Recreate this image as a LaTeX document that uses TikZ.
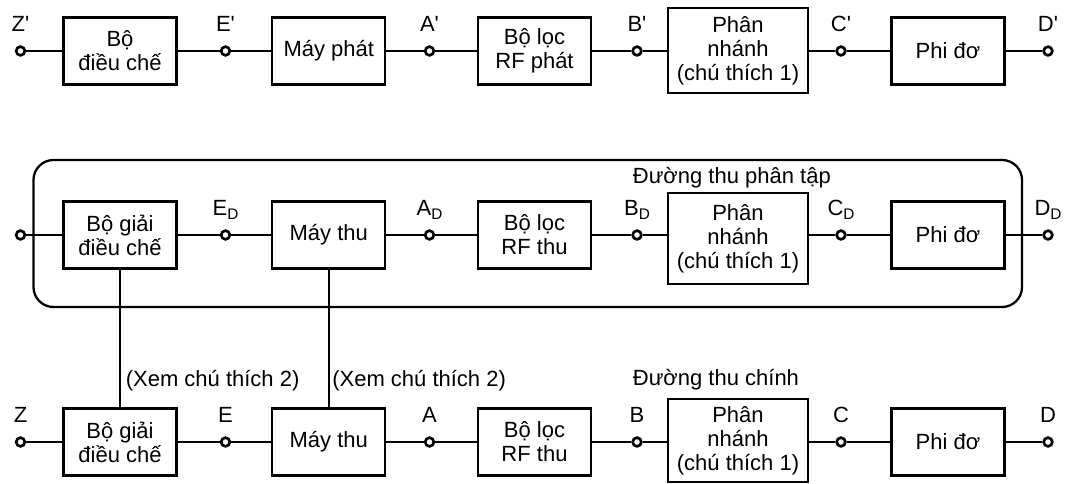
\documentclass[tikz,border=0pt]{standalone}
\usepackage{fontspec}
\setmainfont{Liberation Sans}
\newcommand\qp{\textquotesingle}
\newcommand\sbD{\raisebox{-3pt}{\fontsize{11.5}{12}\selectfont D}}
\begin{document}
\begin{tikzpicture}[x=0.75pt,y=-0.75pt,
 every node/.style={font=\fontsize{16.5}{18}\selectfont},
 blk/.style={draw, line width=1.7pt, minimum width=84.75pt, minimum height=50.25pt, align=center, inner sep=0pt},
 wide/.style={blk, minimum width=105pt},
 port/.style={draw, circle, line width=2pt, fill=white, inner sep=0pt, minimum size=6.5pt},
 lbl/.style={anchor=base, inner sep=0pt},
 note/.style={anchor=base west, inner sep=0pt},
 wire/.style={line width=1.7pt},
 frame/.style={draw, line width=1.7pt, rounded corners=15pt, minimum width=741.4pt, minimum height=110.25pt, inner sep=0pt},
]
\useasboundingbox (0,0) rectangle (1066,483);

% ---------- Row 1 ----------
\node[port] (p1a) at (20.5,51) {};
\node[blk]  (r1b1) at (120,51) {Bộ\\điều chế};
\node[port] (p1b) at (225.5,51) {};
\node[blk]  (r1b2) at (328.75,51) {Máy phát};
\node[port] (p1c) at (429.5,51) {};
\node[blk]  (r1b3) at (534.5,51) {Bộ lọc\\RF phát};
\node[port] (p1d) at (637,51) {};
\node[wide, minimum height=63.75pt] (r1b4) at (738,50.5) {Phân\\nhánh\\(chú thích 1)};
\node[port] (p1e) at (841,51) {};
\node[blk]  (r1b5) at (948,51) {Phi đơ};
\node[port] (p1f) at (1048,51) {};
\foreach \p/\b in {p1a/r1b1, p1b/r1b2, p1c/r1b3, p1d/r1b4, p1e/r1b5}
  \draw[wire] (\p) -- (\p -| \b.west);
\foreach \b/\p in {r1b1/p1b, r1b2/p1c, r1b3/p1d, r1b4/p1e, r1b5/p1f}
  \draw[wire] (\b.east |- \p) -- (\p);
\node[lbl] (l1a) at ([yshift=14.5pt]p1a.center) {Z\qp};
\node[lbl] (l1b) at ([yshift=14.5pt]p1b.center) {E\qp};
\node[lbl] (l1c) at ([yshift=14.5pt]p1c.center) {A\qp};
\node[lbl] (l1d) at ([yshift=14.5pt]p1d.center) {B\qp};
\node[lbl] (l1e) at ([yshift=14.5pt]p1e.center) {C\qp};
\node[lbl] (l1f) at ([yshift=14.5pt]p1f.center) {D\qp};

% ---------- Row 2 (diversity path) ----------
\node[frame] (fr) at (527.75,233.5) {};
\node[note] (t2) at (632.6,183) {Đường thu phân tập};
\node[port] (p2a) at (20.5,235) {};
\node[blk]  (r2b1) at (120,235) {Bộ giải\\điều chế};
\node[port] (p2b) at (225.5,235) {};
\node[blk]  (r2b2) at (328.75,235) {Máy thu};
\node[port] (p2c) at (429.5,235) {};
\node[blk]  (r2b3) at (534.5,235) {Bộ lọc\\RF thu};
\node[port] (p2d) at (637,235) {};
\node[wide, minimum height=68.25pt] (r2b4) at (738,238.5) {Phân\\nhánh\\(chú thích 1)};
\node[port] (p2e) at (841,235) {};
\node[blk]  (r2b5) at (948,235) {Phi đơ};
\node[port] (p2f) at (1048,235) {};
\foreach \p/\b in {p2a/r2b1, p2b/r2b2, p2c/r2b3, p2d/r2b4, p2e/r2b5}
  \draw[wire] (\p) -- (\p -| \b.west);
\foreach \b/\p in {r2b1/p2b, r2b2/p2c, r2b3/p2d, r2b4/p2e, r2b5/p2f}
  \draw[wire] (\b.east |- \p) -- (\p);
\node[lbl] (l2b) at ([yshift=14.5pt]p2b.center) {E\sbD};
\node[lbl] (l2c) at ([yshift=14.5pt]p2c.center) {A\sbD};
\node[lbl] (l2d) at ([yshift=14.5pt]p2d.center) {B\sbD};
\node[lbl] (l2e) at ([yshift=14.5pt]p2e.center) {C\sbD};
\node[lbl] (l2f) at ([yshift=14.5pt]p2f.center) {D\sbD};

% ---------- Row 3 (main path) ----------
\node[port] (p3a) at (20.5,442) {};
\node[blk]  (r3b1) at (120,442) {Bộ giải\\điều chế};
\node[port] (p3b) at (225.5,442) {};
\node[blk]  (r3b2) at (328.75,442) {Máy thu};
\node[port] (p3c) at (429.5,442) {};
\node[blk]  (r3b3) at (534.5,442) {Bộ lọc\\RF thu};
\node[port] (p3d) at (637,442) {};
\node[wide, minimum height=62.25pt] (r3b4) at (738,440.5) {Phân\\nhánh\\(chú thích 1)};
\node[port] (p3e) at (841,442) {};
\node[blk]  (r3b5) at (948,442) {Phi đơ};
\node[port] (p3f) at (1048,442) {};
\foreach \p/\b in {p3a/r3b1, p3b/r3b2, p3c/r3b3, p3d/r3b4, p3e/r3b5}
  \draw[wire] (\p) -- (\p -| \b.west);
\foreach \b/\p in {r3b1/p3b, r3b2/p3c, r3b3/p3d, r3b4/p3e, r3b5/p3f}
  \draw[wire] (\b.east |- \p) -- (\p);
\node[lbl] (l3a) at ([yshift=14.5pt]p3a.center) {Z};
\node[lbl] (l3b) at ([yshift=14.5pt]p3b.center) {E};
\node[lbl] (l3c) at ([yshift=14.5pt]p3c.center) {A};
\node[lbl] (l3d) at ([yshift=14.5pt]p3d.center) {B};
\node[lbl] (l3e) at ([yshift=14.5pt]p3e.center) {C};
\node[lbl] (l3f) at ([yshift=14.5pt]p3f.center) {D};
\node[note] (t3) at (632.6,385) {Đường thu chính};

% ---------- links between paths ----------
\draw[wire] (r2b1.south) -- (r3b1.north);
\draw[wire] (r2b2.south) -- (r3b2.north);
\node[note] (x1) at (125.5,386) {(Xem chú thích 2)};
\node[note] (x2) at (332,386) {(Xem chú thích 2)};
\end{tikzpicture}
\end{document}
